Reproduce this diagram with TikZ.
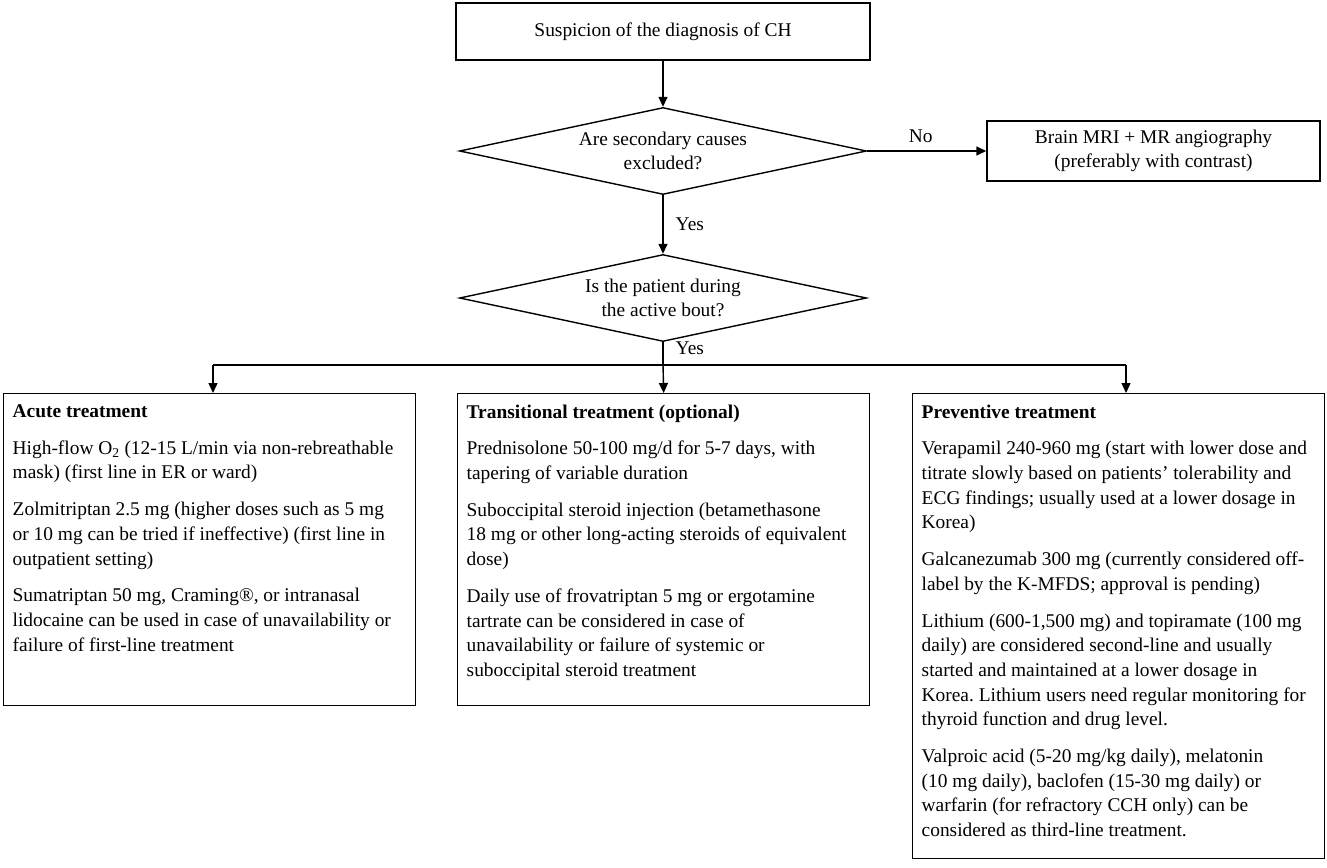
\documentclass[tikz,border=0pt]{standalone}
\usepackage{fontspec}
\setmainfont{Liberation Serif}
\usetikzlibrary{shapes.geometric,arrows.meta}
\frenchspacing
\newcommand{\tbcontent}[2]{\begin{minipage}[c][#1][t]{394pt}\raggedright\frenchspacing #2\end{minipage}}
\begin{document}
\begin{tikzpicture}[x=1pt,y=1pt,
  every node/.style={font=\fontsize{19.4}{24.7}\selectfont},
  box/.style={draw,line width=1.4pt,rectangle,inner sep=0pt},
  dec/.style={draw,line width=1.4pt,diamond,shape aspect=4.68,inner sep=0pt,minimum width=407pt,minimum height=87pt,align=center},
  tbox/.style={draw,line width=1.4pt,rectangle,inner xsep=9pt,inner ysep=11pt,anchor=north west},
  arr/.style={line width=1.4pt,-{Triangle[length=10pt,width=9pt]}},
  ln/.style={line width=1.4pt},
  lab/.style={inner sep=0pt}]
\useasboundingbox (0,0) rectangle (1327,-867);

\node[box,minimum width=414pt,minimum height=57pt] (top) at (663,-31.5) {Suspicion of the diagnosis of CH};
\node[dec] (d1) at (663,-151) {Are secondary causes\\excluded?};
\node[box,minimum width=333pt,minimum height=60pt,align=center] (mri) at (1153.5,-151) {Brain MRI + MR angiography\\(preferably with contrast)};
\node[dec] (d2) at (663,-298) {Is the patient during\\the active bout?};

\node[tbox] (acute) at (3,-393) {\tbcontent{290pt}{\textbf{Acute treatment}\\[12pt]
High-flow O\textsubscript{2} (12-15 L/min via non-rebreathable\\
mask) (first line in ER or ward)\\[12pt]
Zolmitriptan 2.5 mg (higher doses such as 5 mg\\
or 10 mg can be tried if ineffective) (first line in\\
outpatient setting)\\[12pt]
Sumatriptan 50 mg, Craming®, or intranasal\\
lidocaine can be used in case of unavailability or\\
failure of first-line treatment}};

\node[tbox] (trans) at (457,-393) {\tbcontent{290pt}{\textbf{Transitional treatment (optional)}\\[12pt]
Prednisolone 50-100 mg/d for 5-7 days, with\\
tapering of variable duration\\[12pt]
Suboccipital steroid injection (betamethasone\\
18 mg or other long-acting steroids of equivalent\\
dose)\\[12pt]
Daily use of frovatriptan 5 mg or ergotamine\\
tartrate can be considered in case of\\
unavailability or failure of systemic or\\
suboccipital steroid treatment}};

\node[tbox] (prev) at (912,-393) {\tbcontent{443pt}{\textbf{Preventive treatment}\\[12pt]
Verapamil 240-960 mg (start with lower dose and\\
titrate slowly based on patients’ tolerability and\\
ECG findings; usually used at a lower dosage in\\
Korea)\\[12pt]
Galcanezumab 300 mg (currently considered off-\\
label by the K-MFDS; approval is pending)\\[12pt]
Lithium (600-1,500 mg) and topiramate (100 mg\\
daily) are considered second-line and usually\\
started and maintained at a lower dosage in\\
Korea. Lithium users need regular monitoring for\\
thyroid function and drug level.\\[12pt]
Valproic acid (5-20 mg/kg daily), melatonin\\
(10 mg daily), baclofen (15-30 mg daily) or\\
warfarin (for refractory CCH only) can be\\
considered as third-line treatment.}};

\draw[arr] (top.south) -- (d1.north);
\draw[arr] (d1.east) -- node[lab,above=8pt,pos=0.45] {No} (mri.west);
\draw[arr] (d1.south) -- node[lab,right=12pt] {Yes} (d2.north);
\coordinate (j) at (663,-365);
\coordinate (jl) at (213,-365);
\coordinate (jr) at (1126,-365);
\draw[ln] (d2.south) -- node[lab,right=12pt,pos=0.25] {Yes} (j);
\draw[ln] (jl) -- (jr);
\draw[arr] (jl) -- (jl |- acute.north);
\draw[arr] (j) -- (trans.north);
\draw[arr] (jr) -- (jr |- prev.north);
\end{tikzpicture}
\end{document}
